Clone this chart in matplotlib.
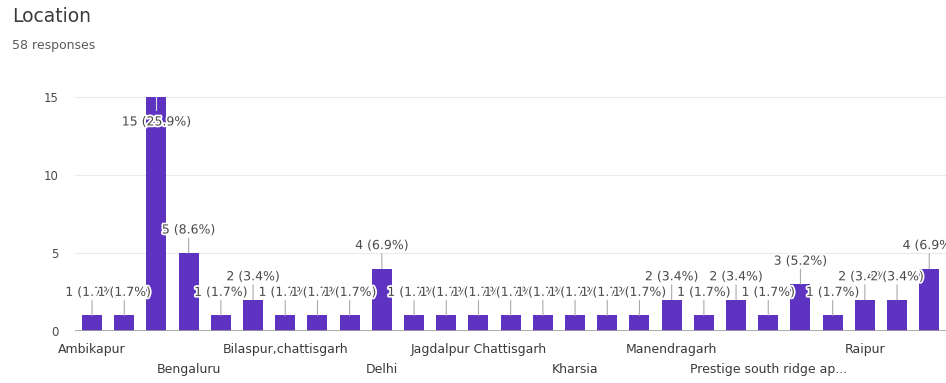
import matplotlib.pyplot as plt
import matplotlib.patheffects as pe
import numpy as np

plt.rcParams['font.family'] = ['DejaVu Sans']

# location names (only every third one is printed on the chart)
categories = ["Ambikapur", "", "", "Bengaluru", "", "", "Bilaspur,chattisgarh", "", "",
              "Delhi", "", "", "Jagdalpur Chattisgarh", "", "", "Kharsia", "", "",
              "Manendragarh", "", "", "Prestige south ridge ap...", "", "", "Raipur", "", ""]
counts = [1, 1, 15, 5, 1, 2, 1, 1, 1,
          4, 1, 1, 1, 1, 1, 1, 1, 1,
          2, 1, 2, 1, 3, 1, 2, 2, 4]
total = 58
yticks = [0, 5, 10, 15]

bar_col = '#5f33c1'
txt_col = '#4a4a4a'

fig = plt.figure(figsize=(9.46, 3.83), dpi=100)
ax = fig.add_axes([75/946, (383-331)/383, 1 - 75/946, 234/383])

x = np.arange(len(counts))
ax.bar(x, counts, width=0.62, color=bar_col, zorder=2)

ax.set_xlim(-0.53, 26.52)
ax.set_ylim(0, 15)
ax.set_yticks(yticks)
ax.set_yticklabels([str(t) for t in yticks], color=txt_col, fontsize=8.5)
ax.tick_params(axis='y', length=0, pad=12)
ax.set_xticks([])
ax.grid(axis='y', color='#ebebeb', lw=0.8, zorder=0)
for s in ax.spines.values():
    s.set_visible(False)
ax.axhline(0, color='#9e9e9e', lw=1.2, zorder=3)

# staggered category labels
k = 0
for i in range(len(categories)):
    if categories[i] == "":
        continue
    off = -19 if k % 2 == 0 else -39
    ax.annotate(categories[i], xy=(i, 0), xytext=(0, off / 1.389),
                textcoords='offset points', ha='center', va='center',
                fontsize=9, color='#3a3a3a', annotation_clip=False)
    k += 1

# value labels with stems
halo = [pe.withStroke(linewidth=2.5, foreground='white')]
for i in range(len(counts)):
    v = counts[i]
    lab = f"{v} ({v / total * 100:.1f}%)"
    if v == max(counts):
        ax.plot([i, i], [v, v - 13 / 15.6], color='#dddddd', lw=0.8, zorder=4)
        off = -25
    else:
        ax.annotate('', xy=(i, v), xytext=(0, 15 / 1.389), textcoords='offset points',
                    arrowprops=dict(arrowstyle='-', color='#aaaaaa', lw=0.8,
                                    shrinkA=0, shrinkB=0), annotation_clip=False)
        off = 23
    ax.annotate(lab, xy=(i, v), xytext=(0, off / 1.389), textcoords='offset points',
                ha='center', va='center', fontsize=9, color=txt_col,
                path_effects=halo, zorder=5, annotation_clip=False)

fig.text(12/946, 1 - 16/383, "Location", fontsize=13.5, color='#3c3c3c', va='center')
fig.text(12/946, 1 - 45/383, "58 responses", fontsize=9, color='#5a5a5a', va='center')

fig.savefig('out.png', dpi=100)
